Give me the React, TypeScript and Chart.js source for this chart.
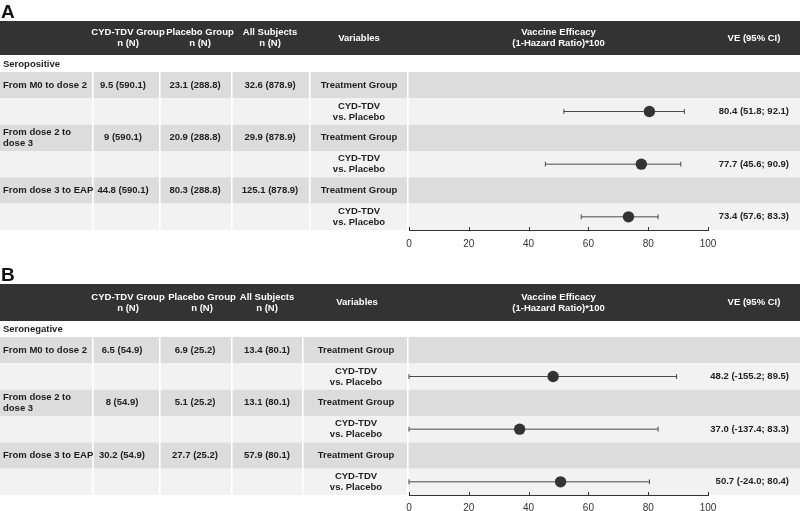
import React, { useEffect, useRef } from "react";
import { Chart, registerables } from "chart.js";
Chart.register(...registerables);

// ---------- shared labels ----------
const periods = ["From M0 to dose 2", "From dose 2 to\ndose 3", "From dose 3 to EAP"];
const headerLabels = [
  "CYD-TDV Group\nn (N)",
  "Placebo Group\nn (N)",
  "All Subjects\nn (N)",
  "Variables",
  "Vaccine Efficacy\n(1-Hazard Ratio)*100",
  "VE (95% CI)",
];
const variableLabels = ["Treatment Group", "CYD-TDV\nvs. Placebo"];
const xTickMin = 0;
const xTickMax = 100;
const xTickStep = 20;

// ---------- Panel A (seropositive) ----------
const letterA = "A";
const groupA = "Seropositive";
const cydCasesA = [9.5, 9, 44.8];
const cydPYA = [590.1, 590.1, 590.1];
const placeboCasesA = [23.1, 20.9, 80.3];
const placeboPYA = [288.8, 288.8, 288.8];
const allCasesA = [32.6, 29.9, 125.1];
const allPYA = [878.9, 878.9, 878.9];
const veA = [80.4, 77.7, 73.4];
const loA = [51.8, 45.6, 57.6];
const hiA = [92.1, 90.9, 83.3];

// ---------- Panel B (seronegative) ----------
const letterB = "B";
const groupB = "Seronegative";
const cydCasesB = [6.5, 8, 30.2];
const cydPYB = [54.9, 54.9, 54.9];
const placeboCasesB = [6.9, 5.1, 27.7];
const placeboPYB = [25.2, 25.2, 25.2];
const allCasesB = [13.4, 13.1, 57.9];
const allPYB = [80.1, 80.1, 80.1];
const veB = [48.2, 37.0, 50.7];
const loB = [-155.2, -137.4, -24.0];
const hiB = [89.5, 83.3, 80.4];

const FONT = "'Liberation Sans', Arial, Helvetica, sans-serif";

type Panel = {
  letter: string;
  group: string;
  cells: string[][];
  ve: number[];
  lo: number[];
  hi: number[];
};

type Layout = {
  height: number;
  letterBase: number;
  headTop: number;
  headBot: number;
  rowsTop: number;
  rowsBot: number;
  tickPad: number;
  seps: number[];
  cellCenters: number[];
  headCenters: number[];
};

const fmtCell = (n: number, N: number) => `${n} (${N})`;

const panelA: Panel = {
  letter: letterA,
  group: groupA,
  cells: periods.map((_, k) => [
    fmtCell(cydCasesA[k], cydPYA[k]),
    fmtCell(placeboCasesA[k], placeboPYA[k]),
    fmtCell(allCasesA[k], allPYA[k]),
  ]),
  ve: veA,
  lo: loA,
  hi: hiA,
};

const panelB: Panel = {
  letter: letterB,
  group: groupB,
  cells: periods.map((_, k) => [
    fmtCell(cydCasesB[k], cydPYB[k]),
    fmtCell(placeboCasesB[k], placeboPYB[k]),
    fmtCell(allCasesB[k], allPYB[k]),
  ]),
  ve: veB,
  lo: loB,
  hi: hiB,
};

const layoutA: Layout = {
  height: 263,
  letterBase: 18,
  headTop: 21,
  headBot: 55,
  rowsTop: 72,
  rowsBot: 230,
  tickPad: 8,
  seps: [93, 160, 232, 310],
  cellCenters: [123, 195, 270, 359],
  headCenters: [128, 200, 270, 359],
};

const layoutB: Layout = {
  height: 248,
  letterBase: 18,
  headTop: 21,
  headBot: 58,
  rowsTop: 74,
  rowsBot: 232,
  tickPad: 7,
  seps: [93, 160, 232, 303],
  cellCenters: [122, 195, 267, 356],
  headCenters: [128, 202, 267, 357],
};

function drawLines(
  ctx: CanvasRenderingContext2D,
  text: string,
  x: number,
  cy: number,
  lh: number
) {
  const lines = text.split("\n");
  const start = cy - ((lines.length - 1) * lh) / 2;
  lines.forEach((ln, i) => ctx.fillText(ln, x, start + i * lh));
}

function tablePlugin(panel: Panel, lay: Layout) {
  return {
    id: "forestTable",
    beforeDraw(chart: any) {
      const { ctx, chartArea, scales } = chart;
      const ys = scales.y;
      const W = chart.width;
      ctx.save();
      ctx.fillStyle = "#ffffff";
      ctx.fillRect(0, 0, W, chart.height);

      // panel letter
      ctx.fillStyle = "#111";
      ctx.font = `bold 19px ${FONT}`;
      ctx.textAlign = "left";
      ctx.textBaseline = "alphabetic";
      ctx.fillText(panel.letter, 1, lay.letterBase);

      // header bar
      ctx.fillStyle = "#333333";
      ctx.fillRect(0, lay.headTop, W, lay.headBot - lay.headTop);
      ctx.fillStyle = "#ffffff";
      ctx.font = `bold 9.5px ${FONT}`;
      ctx.textAlign = "center";
      ctx.textBaseline = "middle";
      const hc = (lay.headTop + lay.headBot) / 2;
      const headX = [
        ...lay.headCenters,
        (chartArea.left + chartArea.right) / 2,
        754,
      ];
      headerLabels.forEach((h, i) => drawLines(ctx, h, headX[i], hc, 11));

      // group label
      ctx.fillStyle = "#1e1e1e";
      ctx.textAlign = "left";
      drawLines(ctx, panel.group, 3, (lay.headBot + lay.rowsTop) / 2 + 0.5, 11);

      // row bands
      const nRows = periods.length * 2;
      for (let i = 0; i < nRows; i++) {
        const y0 = ys.getPixelForValue(i - 0.5);
        const y1 = ys.getPixelForValue(i + 0.5);
        ctx.fillStyle = i % 2 === 0 ? "#dcdcdc" : "#f2f2f2";
        ctx.fillRect(0, Math.min(y0, y1), W, Math.abs(y1 - y0));
      }
      // column separators
      ctx.fillStyle = "#ffffff";
      const top = ys.getPixelForValue(-0.5);
      const bot = ys.getPixelForValue(nRows - 0.5);
      [...lay.seps, chartArea.left - 1].forEach((x) => {
        ctx.fillRect(x - 1, Math.min(top, bot), 1.6, Math.abs(bot - top));
      });

      // cell texts
      ctx.fillStyle = "#1e1e1e";
      ctx.font = `bold 9.5px ${FONT}`;
      periods.forEach((p, k) => {
        const yTreat = ys.getPixelForValue(2 * k);
        const yVs = ys.getPixelForValue(2 * k + 1);
        ctx.textAlign = "left";
        drawLines(ctx, p, 3, yTreat, 11);
        ctx.textAlign = "center";
        panel.cells[k].forEach((c, j) =>
          drawLines(ctx, c, lay.cellCenters[j], yTreat, 11)
        );
        drawLines(ctx, variableLabels[0], lay.cellCenters[3], yTreat, 11);
        drawLines(ctx, variableLabels[1], lay.cellCenters[3], yVs, 11);
        ctx.textAlign = "right";
        const txt = `${panel.ve[k].toFixed(1)} (${panel.lo[k].toFixed(1)}; ${panel.hi[k].toFixed(1)})`;
        drawLines(ctx, txt, 789, yVs, 11);
      });
      ctx.restore();
    },
    afterDraw(chart: any) {
      const { ctx, chartArea, scales } = chart;
      const xs = scales.x;
      ctx.save();
      ctx.strokeStyle = "#333";
      ctx.lineWidth = 1;
      xs.ticks.forEach((t: any) => {
        const x = Math.round(xs.getPixelForValue(t.value)) + 0.5;
        ctx.beginPath();
        ctx.moveTo(x, chartArea.bottom + 0.5);
        ctx.lineTo(x, chartArea.bottom - 3);
        ctx.stroke();
      });
      ctx.restore();
    },
  };
}

function makeConfig(panel: Panel, lay: Layout): any {
  const pointData = panel.ve.map((v, k) => ({ x: v, y: 2 * k + 1 }));
  const ciSets = panel.ve.map((_, k) => ({
    label: "CI",
    data: [
      { x: Math.max(panel.lo[k], xTickMin), y: 2 * k + 1 },
      { x: Math.min(panel.hi[k], xTickMax), y: 2 * k + 1 },
    ],
    showLine: true,
    borderColor: "#4a4a4a",
    borderWidth: 1,
    pointStyle: "line",
    rotation: 90,
    pointRotation: 90,
    radius: 2.5,
    pointRadius: 2.5,
    pointHoverRadius: 2.5,
    pointBorderColor: "#4a4a4a",
    pointBorderWidth: 1,
    borderCapStyle: "butt",
    order: 2,
    clip: false,
  }));
  const axisH = lay.height - lay.rowsBot;
  return {
    type: "scatter",
    data: {
      datasets: [
        {
          label: "VE",
          data: pointData,
          pointRadius: 5.7,
          radius: 5.7,
          pointHoverRadius: 5.7,
          backgroundColor: "#333333",
          pointBackgroundColor: "#333333",
          borderWidth: 0,
          pointBorderWidth: 0,
          order: 0,
          clip: false,
        },
        ...ciSets,
      ],
    },
    options: {
      responsive: false,
      animation: false,
      events: [],
      layout: {
        padding: {
          left: 409,
          right: 92,
          top: lay.rowsTop,
          bottom: 0,
        },
      },
      plugins: { legend: { display: false }, tooltip: { enabled: false } },
      scales: {
        x: {
          type: "linear",
          position: "bottom",
          min: xTickMin,
          max: xTickMax,
          afterFit: (s: any) => {
            s.height = axisH;
          },
          ticks: {
            stepSize: xTickStep,
            padding: lay.tickPad,
            color: "#333",
            font: { family: FONT, size: 10 },
            maxRotation: 0,
            autoSkip: false,
          },
          grid: { display: false, drawTicks: false },
          border: { display: true, color: "#333", width: 1 },
        },
        y: {
          type: "linear",
          display: false,
          min: -0.5,
          max: periods.length * 2 - 0.5,
          reverse: true,
        },
      },
    },
    plugins: [tablePlugin(panel, lay)],
  };
}

function ForestPanel({ panel, lay }: { panel: Panel; lay: Layout }) {
  const ref = useRef<HTMLCanvasElement | null>(null);
  useEffect(() => {
    if (!ref.current) return;
    const chart = new Chart(ref.current, makeConfig(panel, lay));
    return () => chart.destroy();
  }, [panel, lay]);
  return (
    <canvas
      ref={ref}
      width={800}
      height={lay.height}
      style={{ display: "block", width: 800, height: lay.height }}
    />
  );
}

export default function App() {
  useEffect(() => {
    document.body.style.margin = "0";
    document.body.style.background = "#ffffff";
  }, []);
  return (
    <div style={{ width: 800, height: 511, background: "#fff" }}>
      <ForestPanel panel={panelA} lay={layoutA} />
      <ForestPanel panel={panelB} lay={layoutB} />
    </div>
  );
}
